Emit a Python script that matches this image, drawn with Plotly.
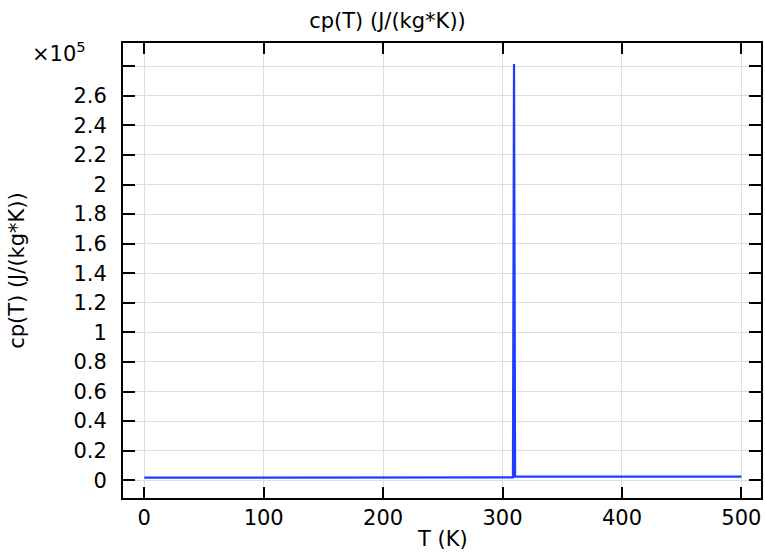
import plotly.graph_objects as go

# Data
T_K = [0, 150, 308.7, 309.6, 310.5, 312.0, 400, 500]
cp_J_per_kgK = [1800, 1820, 1900, 281500, 2600, 2450, 2420, 2400]

y_tick_vals = [0, 0.2e5, 0.4e5, 0.6e5, 0.8e5, 1.0e5, 1.2e5, 1.4e5, 1.6e5, 1.8e5,
               2.0e5, 2.2e5, 2.4e5, 2.6e5, 2.8e5]
y_tick_text = ["0", "0.2", "0.4", "0.6", "0.8", "1", "1.2", "1.4", "1.6", "1.8",
               "2", "2.2", "2.4", "2.6", ""]
x_tick_vals = [0, 100, 200, 300, 400, 500]

FONT = "DejaVu Sans"
FS = 21

# plot area in pixels: left 123, right 763, top 43, bottom 498
L, R, TOP, BOT = 123, 763, 43, 498
PW, PH = float(R - L), float(BOT - TOP)

fig = go.Figure()
fig.add_trace(go.Scatter(x=T_K, y=cp_J_per_kgK, mode="lines",
                         line=dict(color="#1e3cff", width=2.2),
                         showlegend=False, hoverinfo="skip"))

fig.update_layout(
    width=765, height=554,
    margin=dict(l=L, r=765 - R, t=TOP, b=554 - BOT),
    paper_bgcolor="white", plot_bgcolor="white",
    font=dict(family=FONT, size=FS, color="black"),
    title=dict(text="cp(T) (J/(kg*K))", x=387.5 / 765, xref="container", xanchor="center",
               y=1 - 21 / 554, yref="container", yanchor="middle",
               font=dict(family=FONT, size=FS, color="black")),
)

fig.update_xaxes(
    range=[-17.8, 516.4], tickvals=x_tick_vals, ticktext=[str(v) for v in x_tick_vals],
    ticks="inside", ticklen=11, tickwidth=2, tickcolor="black",
    showline=True, linewidth=2, linecolor="black", mirror="ticks",
    showgrid=True, gridcolor="#dedede", gridwidth=1, zeroline=False,
    tickfont=dict(family=FONT, size=FS),
)
fig.update_yaxes(
    range=[-0.12e5, 2.957e5], tickvals=y_tick_vals, ticktext=y_tick_text,
    ticks="inside", ticklen=12, tickwidth=2, tickcolor="black",
    showline=True, linewidth=2, linecolor="black", mirror="ticks",
    showgrid=True, gridcolor="#dedede", gridwidth=1, zeroline=False,
    tickfont=dict(family=FONT, size=FS), ticklabelstandoff=10,
)

# axis titles
fig.add_annotation(text="T (K)", xref="paper", yref="paper",
                   x=(444 - L) / PW, y=(BOT - 539) / PH,
                   xanchor="center", yanchor="middle", showarrow=False,
                   font=dict(family=FONT, size=FS, color="black"))
fig.add_annotation(text="cp(T) (J/(kg*K))", xref="paper", yref="paper",
                   x=(16 - L) / PW, y=0.5, textangle=-90,
                   xanchor="center", yanchor="middle", showarrow=False,
                   font=dict(family=FONT, size=FS, color="black"))

# exponent label
fig.add_annotation(text="×10<sup>5</sup>", xref="paper", yref="paper",
                   x=(88 - L) / PW, y=(BOT - 36) / PH, xanchor="right", yanchor="top",
                   showarrow=False, font=dict(family=FONT, size=FS, color="black"))

fig.write_html("out.html")
